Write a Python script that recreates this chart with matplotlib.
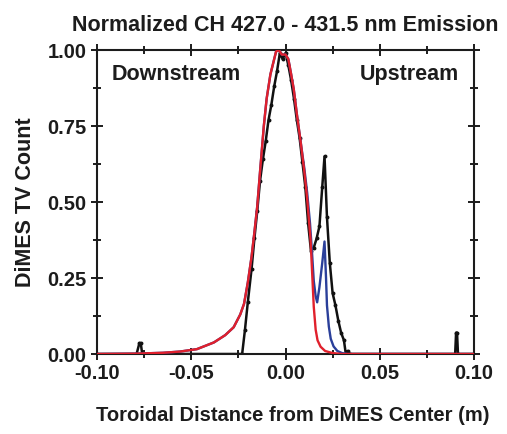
import matplotlib
matplotlib.use("Agg")
import matplotlib.pyplot as plt
from matplotlib.ticker import MultipleLocator

plt.rcParams['font.family'] = ['Liberation Sans', 'DejaVu Sans']
plt.rcParams['font.weight'] = 'bold'

# Measured (black) profile
meas_x = [-0.100, -0.079, -0.0775, -0.0768, -0.0760, -0.023, -0.0215, -0.020, -0.018, -0.0165,
          -0.015, -0.0135, -0.012, -0.0105, -0.009, -0.0075, -0.006, -0.0045, -0.003, -0.0015,
          0.000, 0.0015, 0.003, 0.0045, 0.006, 0.0075, 0.009, 0.0105, 0.012, 0.0135,
          0.015, 0.0165, 0.018, 0.0195, 0.0207, 0.022, 0.0235, 0.025, 0.0265, 0.028,
          0.0295, 0.031, 0.032, 0.033, 0.034, 0.090, 0.0905, 0.0910, 0.0915, 0.100]
meas_y = [0.0, 0.0, 0.036, 0.036, 0.0, 0.0, 0.08, 0.17, 0.28, 0.38,
          0.47, 0.57, 0.64, 0.70, 0.77, 0.82, 0.88, 0.93, 0.99, 0.97,
          0.99, 0.95, 0.90, 0.84, 0.77, 0.71, 0.63, 0.55, 0.43, 0.34,
          0.35, 0.38, 0.42, 0.55, 0.65, 0.45, 0.30, 0.20, 0.16, 0.11,
          0.07, 0.045, 0.0, 0.01, 0.0, 0.0, 0.07, 0.07, 0.0, 0.0]

# Model with upstream peak (blue)
blue_x = [-0.100, -0.080, -0.065, -0.056, -0.047, -0.038, -0.032, -0.0275, -0.024, -0.022,
          -0.020, -0.018, -0.0165, -0.015, -0.0135, -0.0115, -0.010, -0.008, -0.006, -0.005,
          -0.0035, -0.002, 0.000, 0.0015, 0.003, 0.0044, 0.006, 0.008, 0.010, 0.0115,
          0.013, 0.014, 0.015, 0.016, 0.0168, 0.018, 0.0195, 0.0207, 0.0215, 0.022,
          0.023, 0.024, 0.0255, 0.0275, 0.030, 0.033, 0.100]
blue_y = [0.0, 0.001, 0.004, 0.008, 0.016, 0.038, 0.062, 0.088, 0.13, 0.165,
          0.235, 0.32, 0.40, 0.485, 0.60, 0.75, 0.84, 0.92, 0.97, 0.995,
          1.0, 0.985, 0.985, 0.97, 0.92, 0.87, 0.79, 0.70, 0.61, 0.53,
          0.43, 0.34, 0.24, 0.19, 0.17, 0.22, 0.30, 0.37, 0.25, 0.16,
          0.09, 0.05, 0.025, 0.01, 0.003, 0.0, 0.0]

# Model without upstream peak (red)
red_x = [-0.100, -0.080, -0.065, -0.056, -0.047, -0.038, -0.032, -0.0275, -0.024, -0.022,
         -0.020, -0.018, -0.0165, -0.015, -0.0135, -0.0115, -0.010, -0.008, -0.006, -0.005,
         -0.0035, -0.002, 0.000, 0.0015, 0.003, 0.0044, 0.006, 0.008, 0.010, 0.0115,
         0.0133, 0.0145, 0.015, 0.016, 0.017, 0.0186, 0.021, 0.025, 0.030, 0.100]
red_y = [0.0, 0.001, 0.004, 0.008, 0.016, 0.038, 0.062, 0.088, 0.13, 0.165,
         0.235, 0.32, 0.40, 0.485, 0.60, 0.75, 0.84, 0.92, 0.97, 0.995,
         1.0, 0.985, 0.985, 0.97, 0.92, 0.87, 0.79, 0.70, 0.60, 0.51,
         0.375, 0.22, 0.155, 0.08, 0.045, 0.024, 0.01, 0.003, 0.0, 0.0]

xticks = [-0.10, -0.05, 0.00, 0.05, 0.10]
xticklabels = ['-0.10', '-0.05', '0.00', '0.05', '0.10']
yticks = [0.00, 0.25, 0.50, 0.75, 1.00]
yticklabels = ['0.00', '0.25', '0.50', '0.75', '1.00']

fig = plt.figure(figsize=(5.07, 4.34), dpi=100)
ax = fig.add_axes([97/507, 80/434, 377/507, 304/434])

tc = '#1c1c1c'
ax.plot(meas_x, meas_y, color='#111111', lw=1.8, marker='o', ms=1.8, zorder=2)
ax.plot(blue_x, blue_y, color='#2a3f9a', lw=1.7, zorder=3)
ax.plot(red_x, red_y, color='#e0202c', lw=1.7, zorder=4)

ax.set_xlim(-0.1, 0.1)
ax.set_ylim(0, 1.0)
ax.set_xticks(xticks)
ax.set_xticklabels(xticklabels)
ax.set_yticks(yticks)
ax.set_yticklabels(yticklabels)
ax.xaxis.set_minor_locator(MultipleLocator(0.025))
ax.yaxis.set_minor_locator(MultipleLocator(0.125))
ax.tick_params(which='both', direction='inout', top=True, right=True, width=1.4, color=tc)
ax.tick_params(which='major', length=9, labelsize=14.5, labelcolor=tc)
ax.tick_params(axis='x', which='major', pad=3)
ax.tick_params(axis='y', which='major', pad=3)
ax.tick_params(which='minor', length=5.5)
for s in ax.spines.values():
    s.set_linewidth(1.5)
    s.set_color(tc)

ax.set_title('Normalized CH 427.0 - 431.5 nm Emission', fontsize=15.5, fontweight='bold', color=tc, pad=14)
ax.set_xlabel('Toroidal Distance from DiMES Center (m)', fontsize=14.5, fontweight='bold', color=tc)
ax.xaxis.set_label_coords(0.52, -0.17)
ax.set_ylabel('DiMES TV Count', fontsize=15.5, fontweight='bold', color=tc, labelpad=8)

ax.text(0.04, 0.92, 'Downstream', transform=ax.transAxes, fontsize=15.5, fontweight='bold', color=tc, va='center', ha='left')
ax.text(0.96, 0.92, 'Upstream', transform=ax.transAxes, fontsize=15.5, fontweight='bold', color=tc, va='center', ha='right')

fig.savefig('out.png', dpi=100)
